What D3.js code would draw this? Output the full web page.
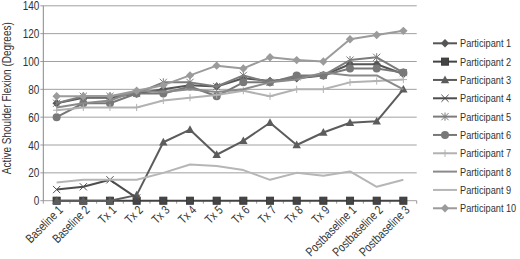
<!DOCTYPE html>
<html><head><meta charset="utf-8">
<script src="https://cdn.jsdelivr.net/npm/d3@7"></script>
<style>
body{margin:0;background:#fff;}
text{font-family:"Liberation Sans",Arial,sans-serif;fill:#333;}
</style></head>
<body><svg id="chart" width="520" height="259"></svg>
<script>
const categories = ["Baseline 1","Baseline 2","Tx 1","Tx 2","Tx 3","Tx 4","Tx 5","Tx 6","Tx 7","Tx 8","Tx 9","Postbaseline 1","Postbaseline 2","Postbaseline 3"];
const seriesNames = ["Participant 1","Participant 2","Participant 3","Participant 4","Participant 5","Participant 6","Participant 7","Participant 8","Participant 9","Participant 10"];
const p1  = [70, 74, 74, 77, 80, 83, 82, 88, 86, 88, 90, 98, 98, 91];
const p2  = [0, 0, 0, 0, 0, 0, 0, 0, 0, 0, 0, 0, 0, 0];
const p3  = [0, 0, 0, 4, 42, 51, 33, 43, 56, 40, 49, 56, 57, 80];
const p4  = [8, 10, 15, 2, null, null, null, null, null, null, null, null, null, null];
const p5  = [70, 75, 75, 77, 85, 85, 82, 90, 85, 89, 90, 101, 103, 92];
const p6  = [60, 70, 70, 77, 77, 82, 75, 85, 85, 90, 90, 95, 95, 92];
const p7  = [65, 67, 67, 67, 72, 74, 76, 79, 75, 80, 80, 85, 86, 87];
const p8  = [67, 70, 72, 79, 78, 80, 78, 80, 85, 87, 92, 90, 90, 80];
const p9  = [13, 15, 15, 15, 20, 26, 25, 22, 15, 20, 18, 21, 10, 15];
const p10 = [75, 75, 75, 79, 83, 90, 97, 95, 103, 101, 100, 116, 119, 122];
const yTicks = [0, 20, 40, 60, 80, 100, 120, 140];
const yTitle = "Active Shoulder Flexion (Degrees)";

const seriesValues = [p1,p2,p3,p4,p5,p6,p7,p8,p9,p10];
const colors  = ["#555555","#444444","#5c5c5c","#4e4e4e","#7c7c7c","#787878","#b2b2b2","#8a8a8a","#b6b6b6","#9b9b9b"];
const markers = ["diamond","square","triangle","x","asterisk","circle","plus","none","none","diamond"];
const SX = 0.8; // narrow font emulation

const svg = d3.select("#chart");
const L = 43.3, R = 416.7, T = 5.8, B = 200.7;
const x = d3.scaleBand().domain(categories).range([L, R]);
const y = d3.scaleLinear().domain([0, 140]).range([B, T]);

// gridlines
svg.append("g").selectAll("line").data(yTicks).join("line")
  .attr("x1", L - 3).attr("x2", R).attr("y1", d => y(d)).attr("y2", d => y(d))
  .attr("stroke", "#a0a0a0").attr("stroke-width", 1);
// y axis line
svg.append("line").attr("x1", L).attr("x2", L).attr("y1", T).attr("y2", B)
  .attr("stroke", "#888").attr("stroke-width", 1);
// x axis ticks
svg.append("g").selectAll("line").data(categories.concat(["__end"])).join("line")
  .attr("x1", (d,i) => L + i * x.step()).attr("x2", (d,i) => L + i * x.step())
  .attr("y1", B).attr("y2", B + 3).attr("stroke", "#999");

// y labels
svg.append("g").selectAll("text").data(yTicks).join("text")
  .attr("transform", d => `translate(${L - 4},${y(d)}) scale(${SX},1)`)
  .attr("dy", "0.36em").attr("text-anchor", "end").attr("font-size", 12.5).text(d => d);

// x labels
svg.append("g").selectAll("text").data(categories).join("text")
  .attr("transform", d => `translate(${x(d) + x.bandwidth()/2 + 4},${B + 7}) rotate(-45) scale(${SX},1)`)
  .attr("text-anchor", "end").attr("font-size", 12.5).attr("dy", "0.35em").text(d => d);

// y title
svg.append("text").attr("transform", `translate(11,${(T + B) / 2 - 5}) rotate(-90) scale(${SX},1)`)
  .attr("text-anchor", "middle").attr("font-size", 12.5).text(yTitle);

function drawMarker(g, type, cx, cy, color) {
  const s = 3.6;
  if (type === "diamond") {
    g.append("path").attr("d", `M${cx},${cy-s-0.6}L${cx+s+0.6},${cy}L${cx},${cy+s+0.6}L${cx-s-0.6},${cy}Z`).attr("fill", color);
  } else if (type === "square") {
    g.append("rect").attr("x", cx - s).attr("y", cy - s).attr("width", 2*s).attr("height", 2*s)
      .attr("fill", color).attr("stroke", "#333").attr("stroke-width", 0.8);
  } else if (type === "triangle") {
    g.append("path").attr("d", `M${cx},${cy-s-0.8}L${cx+s+0.6},${cy+s-0.4}L${cx-s-0.6},${cy+s-0.4}Z`).attr("fill", color);
  } else if (type === "circle") {
    g.append("circle").attr("cx", cx).attr("cy", cy).attr("r", s + 0.4).attr("fill", color);
  } else if (type === "x") {
    g.append("path").attr("d", `M${cx-s},${cy-s}L${cx+s},${cy+s}M${cx-s},${cy+s}L${cx+s},${cy-s}`)
      .attr("stroke", color).attr("stroke-width", 1).attr("fill", "none");
  } else if (type === "asterisk") {
    g.append("path").attr("d", `M${cx-s},${cy-s}L${cx+s},${cy+s}M${cx-s},${cy+s}L${cx+s},${cy-s}M${cx},${cy-s-0.5}L${cx},${cy+s+0.5}`)
      .attr("stroke", color).attr("stroke-width", 1).attr("fill", "none");
  } else if (type === "plus") {
    g.append("path").attr("d", `M${cx-s},${cy}L${cx+s},${cy}M${cx},${cy-s}L${cx},${cy+s}`)
      .attr("stroke", color).attr("stroke-width", 1).attr("fill", "none");
  }
}

const line = d3.line()
  .defined(d => d.v !== null)
  .x(d => x(d.c) + x.bandwidth()/2).y(d => y(d.v));

seriesValues.forEach((vals, si) => {
  const data = categories.map((c, i) => ({c, v: vals[i]}));
  const g = svg.append("g");
  g.append("path").datum(data).attr("d", line).attr("fill", "none")
    .attr("stroke", colors[si]).attr("stroke-width", 2).attr("stroke-linejoin", "round");
  data.filter(d => d.v !== null).forEach(d => drawMarker(g, markers[si], x(d.c) + x.bandwidth()/2, y(d.v), colors[si]));
});

// legend
const lg = svg.append("g");
seriesNames.forEach((n, i) => {
  const yy = 43.3 + i * 18.33;
  lg.append("line").attr("x1", 433).attr("x2", 457).attr("y1", yy).attr("y2", yy)
    .attr("stroke", colors[i]).attr("stroke-width", 2);
  drawMarker(lg, markers[i], 445, yy, colors[i]);
  lg.append("text").attr("transform", `translate(460,${yy}) scale(${SX},1)`)
    .attr("dy", "0.35em").attr("font-size", 11.5).text(n);
});
</script></body></html>
